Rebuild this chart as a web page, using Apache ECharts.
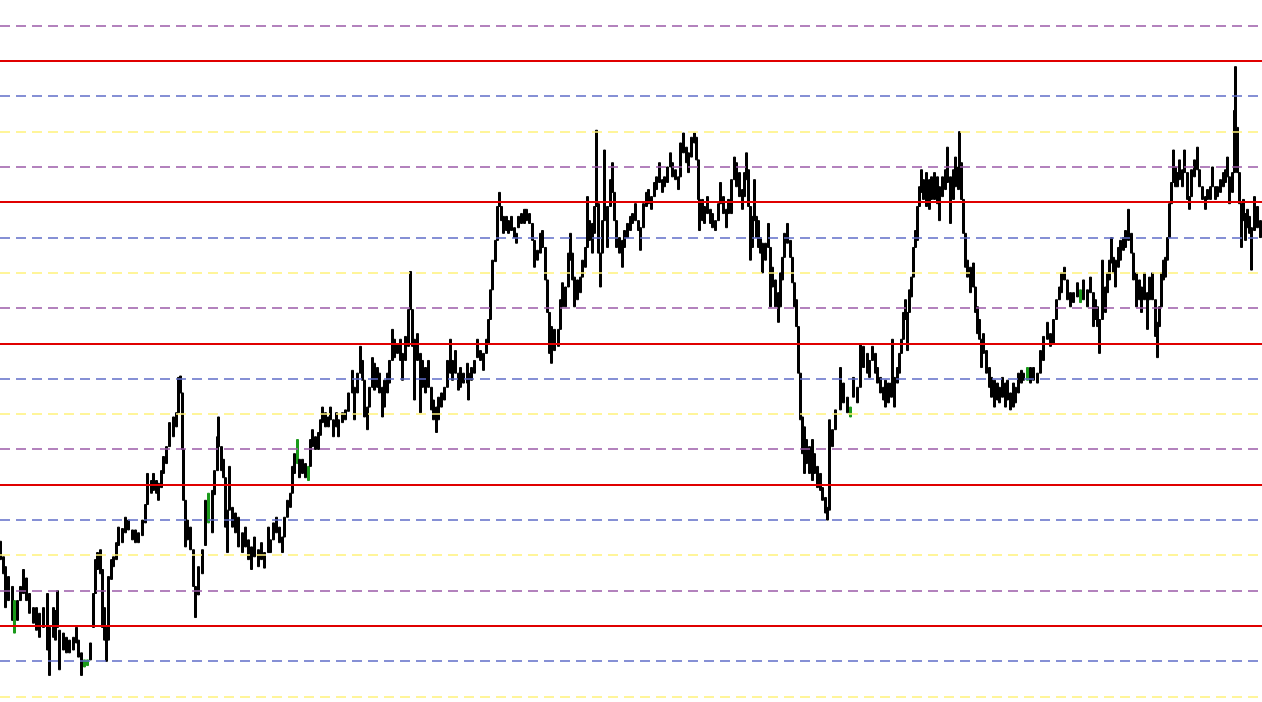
<!DOCTYPE html>
<html><head><meta charset="utf-8">
<script src="https://cdn.jsdelivr.net/npm/echarts@6/dist/echarts.min.js"></script>
<style>html,body{margin:0;padding:0;background:#fff}#c{width:1262px;height:702px}</style>
</head><body><div id="c"></div><script>
// bar position (bar number along the time axis)
const barPos = [
0,3,5,8,12,14,17,20,23,26,
29,33,36,39,43,47,49,53,55,57,
59,63,66,69,73,76,78,81,84,87,
90,93,95,97,100,102,104,106,108,111,
113,116,118,122,125,128,132,135,138,142,
145,147,151,153,156,158,161,163,166,169,
173,176,178,180,182,183,185,187,190,193,
195,198,202,205,208,212,214,217,218,221,
223,225,227,229,232,235,238,242,245,248,
251,254,258,261,264,268,270,273,276,279,
282,284,287,290,292,294,297,299,302,305,
308,310,312,315,318,320,322,325,328,330,
333,336,338,342,345,348,352,354,357,360,
362,364,367,369,372,374,377,379,382,384,
387,389,392,394,397,400,402,405,408,410,
412,414,417,420,422,425,428,431,433,436,
438,441,444,447,450,452,455,458,460,463,
467,468,471,474,477,480,483,486,488,490,
492,495,497,499,501,503,506,508,511,514,
516,518,521,524,526,529,532,534,537,540,
542,545,547,549,551,554,558,560,562,565,
568,570,572,574,577,580,582,585,587,589,
592,594,596,598,600,602,604,607,610,612,
614,616,619,622,624,627,630,632,635,638,
640,643,646,648,651,654,656,659,662,664,
667,670,672,675,678,680,683,686,688,691,
694,696,698,699,702,704,707,710,712,715,
718,720,723,726,728,731,734,736,739,742,
744,746,748,750,752,754,756,758,760,762,
765,768,770,772,775,778,780,782,784,787,
790,792,794,796,798,800,802,804,806,809,
812,814,817,820,822,825,827,829,832,835,
840,843,847,850,853,857,860,863,867,869,
872,875,877,880,883,885,888,891,892,894,
897,899,901,903,905,907,909,911,913,915,
917,919,921,923,926,929,931,934,937,939,
942,945,947,950,953,955,958,959,961,963,
965,967,970,973,975,977,979,981,983,986,
989,991,994,997,999,1002,1005,1007,1010,1013,
1015,1018,1021,1023,1027,1030,1033,1037,1040,1043,
1047,1050,1053,1056,1059,1061,1064,1067,1070,1073,
1077,1080,1083,1087,1090,1093,1095,1097,1099,1102,
1105,1107,1109,1111,1113,1115,1118,1120,1123,1125,
1128,1131,1133,1136,1139,1141,1144,1147,1149,1152,
1155,1157,1159,1161,1163,1165,1167,1169,1171,1173,
1175,1177,1179,1182,1184,1187,1189,1191,1194,1197,
1199,1202,1205,1207,1210,1212,1215,1217,1220,1223,
1225,1227,1229,1232,1234,1235,1237,1239,1241,1243,
1245,1247,1249,1251,1254,1257,1260
];
const barHigh = [
1060,1049,1042,1035,1028,1018,1018,1028,1040,1034,
1023,1013,1013,1009,1013,1023,999,1013,1011,1025,
997,995,992,990,992,999,990,981,976,976,
988,1023,1047,1052,1054,1040,1013,999,1035,1047,
1049,1059,1070,1069,1077,1075,1068,1068,1066,1075,
1086,1108,1103,1108,1103,1101,1110,1120,1127,1144,
1148,1151,1176,1177,1165,1125,1089,1075,1070,1054,
1028,1042,1054,1089,1094,1096,1110,1134,1148,1127,
1118,1105,1082,1113,1084,1080,1077,1066,1070,1061,
1056,1063,1054,1059,1052,1070,1061,1073,1077,1070,
1063,1077,1089,1094,1113,1122,1132,1118,1118,1115,
1113,1132,1139,1134,1137,1146,1155,1151,1148,1155,
1146,1151,1146,1151,1153,1165,1181,1169,1179,1198,
1188,1174,1155,1169,1190,1186,1183,1179,1169,1174,
1179,1188,1210,1203,1200,1203,1193,1205,1224,1251,
1224,1203,1207,1193,1188,1183,1188,1169,1160,1155,
1162,1165,1169,1188,1203,1188,1195,1179,1183,1179,
1186,1179,1183,1188,1203,1195,1193,1203,1217,1238,
1259,1273,1297,1307,1297,1290,1290,1287,1290,1282,
1278,1290,1292,1295,1295,1292,1285,1273,1266,1278,
1280,1268,1245,1222,1212,1210,1210,1231,1243,1240,
1264,1278,1264,1247,1245,1247,1259,1268,1304,1287,
1285,1297,1351,1299,1264,1287,1337,1297,1316,1328,
1307,1287,1275,1273,1280,1285,1290,1292,1299,1287,
1282,1299,1307,1309,1304,1314,1318,1328,1316,1318,
1325,1335,1328,1323,1318,1342,1349,1339,1335,1346,
1349,1346,1330,1302,1302,1297,1304,1295,1292,1287,
1299,1314,1304,1295,1302,1316,1332,1328,1321,1309,
1321,1335,1323,1297,1290,1316,1290,1287,1275,1271,
1271,1285,1268,1254,1245,1236,1250,1261,1278,1285,
1273,1261,1243,1231,1212,1179,1148,1141,1132,1127,
1132,1122,1113,1108,1098,1091,1084,1146,1139,1153,
1183,1172,1162,1155,1176,1169,1200,1198,1193,1188,
1198,1193,1183,1176,1169,1174,1172,1172,1203,1176,
1183,1193,1203,1222,1231,1222,1238,1247,1268,1280,
1297,1311,1323,1316,1321,1316,1318,1321,1318,1311,
1318,1323,1339,1318,1323,1332,1325,1350,1328,1302,
1278,1259,1254,1257,1240,1226,1217,1203,1207,1195,
1183,1176,1174,1172,1169,1176,1172,1174,1165,1172,
1169,1179,1181,1179,1183,1183,1183,1179,1195,1205,
1215,1207,1217,1231,1240,1250,1254,1245,1236,1236,
1243,1238,1245,1238,1247,1236,1231,1226,1217,1259,
1240,1250,1259,1275,1261,1259,1268,1273,1275,1280,
1295,1278,1264,1250,1245,1240,1250,1236,1247,1250,
1231,1215,1226,1250,1259,1261,1275,1299,1314,1337,
1325,1321,1330,1323,1337,1321,1304,1323,1330,1339,
1323,1311,1304,1309,1311,1325,1311,1311,1316,1321,
1323,1332,1318,1321,1365,1396,1353,1321,1299,1302,
1292,1295,1290,1282,1304,1297,1287
];
const barLow = [
1047,1037,1013,1018,1004,995,1004,1018,1023,1018,
1009,1002,997,992,999,983,965,992,990,999,
969,983,981,981,983,988,978,965,971,972,
976,999,1023,1040,1037,999,990,975,990,1033,
1042,1047,1057,1059,1066,1068,1061,1059,1059,1064,
1073,1086,1094,1096,1094,1089,1098,1108,1115,1127,
1134,1141,1151,1165,1125,1089,1056,1061,1054,1028,
1006,1022,1037,1057,1073,1066,1093,1110,1127,1110,
1105,1070,1052,1082,1070,1066,1056,1052,1056,1047,
1040,1049,1042,1047,1041,1052,1052,1061,1066,1059,
1052,1063,1077,1084,1094,1108,1115,1105,1108,1105,
1103,1113,1127,1125,1125,1135,1144,1141,1141,1146,
1134,1141,1134,1144,1146,1152,1165,1146,1165,1179,
1174,1148,1139,1155,1169,1167,1169,1165,1148,1155,
1165,1172,1188,1190,1193,1188,1174,1188,1198,1224,
1198,1160,1188,1151,1169,1165,1169,1153,1146,1137,
1146,1155,1160,1169,1179,1174,1179,1167,1169,1172,
1172,1160,1174,1179,1190,1188,1181,1193,1200,1217,
1238,1258,1273,1297,1287,1278,1280,1278,1280,1275,
1271,1282,1285,1285,1287,1285,1273,1254,1259,1264,
1268,1245,1222,1193,1186,1195,1198,1210,1226,1226,
1240,1259,1245,1226,1231,1236,1247,1254,1268,1273,
1264,1278,1297,1264,1240,1264,1287,1268,1297,1307,
1287,1268,1264,1254,1268,1275,1280,1285,1287,1280,
1266,1282,1297,1299,1295,1304,1309,1314,1307,1311,
1314,1325,1318,1316,1309,1318,1335,1328,1321,1332,
1342,1330,1302,1280,1287,1285,1292,1285,1282,1280,
1287,1299,1292,1282,1292,1292,1316,1311,1304,1295,
1304,1316,1297,1259,1268,1287,1275,1268,1264,1250,
1259,1268,1226,1240,1226,1215,1226,1245,1261,1271,
1261,1243,1226,1212,1179,1146,1122,1108,1115,1108,
1103,1108,1098,1096,1089,1080,1075,1082,1127,1139,
1153,1158,1151,1148,1162,1158,1169,1183,1179,1176,
1188,1179,1172,1165,1160,1155,1158,1162,1172,1155,
1172,1179,1193,1203,1217,1195,1222,1233,1247,1268,
1273,1297,1307,1302,1297,1295,1302,1302,1299,1287,
1304,1309,1314,1285,1302,1311,1309,1323,1302,1278,
1254,1247,1236,1240,1222,1207,1203,1183,1193,1179,
1169,1162,1155,1160,1158,1162,1155,1160,1153,1155,
1158,1165,1172,1174,1174,1172,1174,1172,1179,1188,
1203,1198,1200,1217,1231,1236,1245,1231,1226,1229,
1233,1229,1231,1226,1236,1212,1217,1212,1193,1217,
1222,1236,1245,1257,1250,1240,1254,1259,1266,1268,
1273,1264,1245,1226,1231,1222,1231,1210,1231,1231,
1205,1190,1212,1226,1245,1247,1259,1275,1299,1314,
1311,1311,1316,1311,1321,1302,1295,1304,1318,1323,
1311,1302,1295,1302,1302,1311,1302,1304,1307,1311,
1314,1318,1299,1307,1321,1353,1321,1299,1268,1287,
1273,1282,1278,1252,1280,1282,1275
];
// bars drawn in the bull (green) colour
const greenBars = [14, 84, 87, 208, 297, 308, 850, 1027, 1080];
// horizontal price levels
const levels = [950, 975, 1000, 1025, 1050, 1075, 1100, 1125, 1150, 1175, 1200,
  1225, 1250, 1275, 1300, 1325, 1350, 1375, 1400, 1425];

const n = Math.min(barPos.length, barHigh.length, barLow.length);
const candles = [];
for (let i = 0; i < n; i++) {
  const item = { value: [barPos[i], barLow[i], barHigh[i], barLow[i], barHigh[i]] };
  if (greenBars.indexOf(barPos[i]) >= 0) item.itemStyle = { color: '#1a9a1a', borderColor: '#1a9a1a', color0: '#1a9a1a', borderColor0: '#1a9a1a' };
  candles.push(item);
}
function levelStyle(v) {
  const r = ((v % 100) + 100) % 100;
  if (r === 0) return { stroke: '#e00000', lineWidth: 2 };
  if (r === 75) return { stroke: '#5f6cc8', lineWidth: 1.5, lineDash: [10, 6] };
  if (r === 50) return { stroke: '#fff27a', lineWidth: 1.5, lineDash: [10, 6] };
  return { stroke: '#9a5aa8', lineWidth: 1.5, lineDash: [10, 6] };
}
const chart = echarts.init(document.getElementById('c'), null, { renderer: 'canvas' });
chart.setOption({
  animation: false,
  backgroundColor: '#ffffff',
  grid: { left: 0, right: 0, top: 0, bottom: 0 },
  xAxis: { type: 'value', min: 0, max: 1262, show: false, splitLine: { show: false } },
  yAxis: { type: 'value', min: 946.2, max: 1443.2, show: false, splitLine: { show: false }, scale: true },
  series: [
    {
      type: 'candlestick',
      data: candles,
      barWidth: 2.5,
      z: 2,
      itemStyle: { color: '#000000', color0: '#000000', borderColor: '#000000', borderColor0: '#000000', borderWidth: 1 }
    },
    {
      type: 'custom',
      z: 5,
      silent: true,
      data: levels.map(v => [v]),
      encode: { y: 0 },
      renderItem: function (params, api) {
        const v = api.value(0);
        const cs = params.coordSys;
        const y = Math.round(api.coord([0, v])[1]);
        return {
          type: 'line',
          shape: { x1: cs.x, y1: y, x2: cs.x + cs.width, y2: y },
          style: levelStyle(v)
        };
      }
    }
  ]
});
</script></body></html>
